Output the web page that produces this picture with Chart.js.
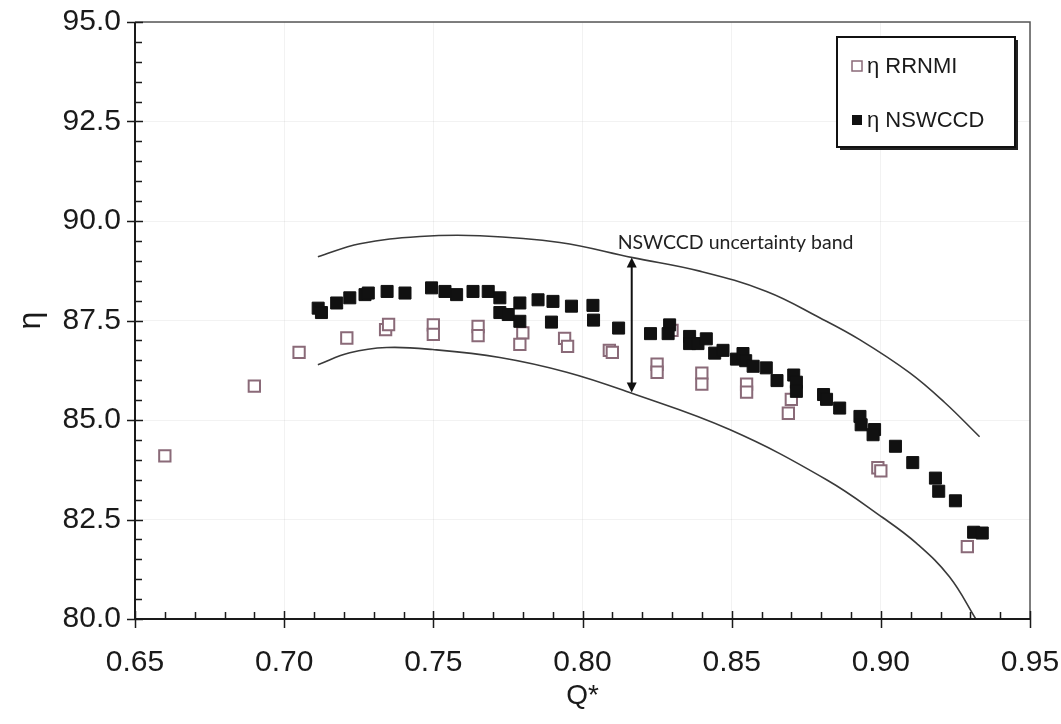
<!DOCTYPE html>
<html>
<head>
<meta charset="utf-8">
<script src="https://cdn.jsdelivr.net/npm/chart.js@4.4.1/dist/chart.umd.min.js"></script>
<style>
  html, body { margin: 0; padding: 0; background: #fff; }
  #wrap { width: 1061px; height: 724px; }
</style>
</head>
<body>
<div id="wrap"><canvas id="etaChart"></canvas></div>
<script>
// RRNMI efficiency measurements
const rrnmiQ = [0.660, 0.690, 0.705, 0.721, 0.734, 0.735, 0.750, 0.750, 0.765, 0.765,
                0.780, 0.779, 0.794, 0.795, 0.809, 0.810, 0.825, 0.825, 0.830, 0.840,
                0.840, 0.855, 0.855, 0.870, 0.869, 0.899, 0.900, 0.929];
const rrnmiEta = [84.10, 85.85, 86.70, 87.06, 87.27, 87.40, 87.39, 87.15, 87.35, 87.12,
                  87.19, 86.90, 87.05, 86.85, 86.75, 86.70, 86.40, 86.20, 87.25, 86.18,
                  85.90, 85.90, 85.70, 85.52, 85.17, 83.80, 83.72, 81.82];

// NSWCCD efficiency measurements
const nswccdQ = [0.7114, 0.7125, 0.7176, 0.7220, 0.7271, 0.7282, 0.7345, 0.7405, 0.7494, 0.7539,
                 0.7578, 0.7633, 0.7684, 0.7723, 0.7723, 0.7751, 0.7790, 0.7790, 0.7851, 0.7901,
                 0.7896, 0.7963, 0.8035, 0.8037, 0.8121, 0.8228, 0.8292, 0.8287, 0.8359, 0.8359,
                 0.8387, 0.8415, 0.8443, 0.8471, 0.8516, 0.8538, 0.8547, 0.8572, 0.8616, 0.8652,
                 0.8708, 0.8717, 0.8717, 0.8808, 0.8818, 0.8862, 0.8930, 0.8934, 0.8979, 0.8974,
                 0.9049, 0.9107, 0.9183, 0.9194, 0.9250, 0.9311, 0.9340];
const nswccdEta = [87.81, 87.70, 87.94, 88.07, 88.15, 88.19, 88.23, 88.19, 88.32, 88.23,
                   88.15, 88.23, 88.23, 88.07, 87.70, 87.65, 87.94, 87.48, 88.02, 87.98,
                   87.46, 87.86, 87.88, 87.51, 87.31, 87.17, 87.39, 87.17, 87.10, 86.92,
                   86.92, 87.04, 86.68, 86.75, 86.53, 86.67, 86.49, 86.35, 86.31, 85.99,
                   86.13, 85.95, 85.72, 85.64, 85.52, 85.30, 85.09, 84.88, 84.76, 84.63,
                   84.34, 83.93, 83.54, 83.21, 82.97, 82.18, 82.16];

// NSWCCD uncertainty band limits
const bandUpperQ = [0.7113, 0.7254, 0.7455, 0.7656, 0.7924, 0.8168, 0.8393, 0.8617, 0.8795, 0.8929, 0.9096, 0.9214, 0.9331];
const bandUpperEta = [89.10, 89.43, 89.61, 89.63, 89.46, 89.08, 88.74, 88.23, 87.57, 87.02, 86.19, 85.44, 84.58];
const bandLowerQ = [0.7113, 0.7220, 0.7344, 0.7498, 0.7723, 0.7947, 0.8158, 0.8493, 0.8818, 0.9006, 0.9120, 0.9230, 0.9320];
const bandLowerEta = [86.39, 86.69, 86.82, 86.77, 86.57, 86.20, 85.69, 84.76, 83.50, 82.55, 81.90, 81.06, 79.98];

// band width marker and its caption
const bandArrowQ = 0.8165;
const bandArrowEta = [85.69, 89.08];
const bandCaption = 'NSWCCD uncertainty band';
const bandCaptionQ = 0.8513;
const bandCaptionEta = 89.45;

// axes
const xTickValues = [0.65, 0.70, 0.75, 0.80, 0.85, 0.90, 0.95];
const yTickValues = [80.0, 82.5, 85.0, 87.5, 90.0, 92.5, 95.0];
const xMinorStep = 0.01;
const yMinorStep = 0.5;

const legendLabels = ['η RRNMI', 'η NSWCCD'];

const toPoints = (xs, ys) => xs.map((x, i) => ({ x: x, y: ys[i] }));

const tickFont = { family: "'Liberation Sans', Arial, sans-serif", size: 30 };

// frame, inside/crossing tick marks, arrow, caption and legend box
const decorations = {
    id: 'decorations',
    afterDraw(chart) {
        const ctx = chart.ctx;
        const area = chart.chartArea;
        const xs = chart.scales.x;
        const ys = chart.scales.y;

        ctx.save();
        // frame
        ctx.strokeStyle = '#555';
        ctx.lineWidth = 1.5;
        ctx.beginPath();
        ctx.moveTo(area.left, area.top);
        ctx.lineTo(area.right, area.top);
        ctx.lineTo(area.right, area.bottom);
        ctx.stroke();
        ctx.strokeStyle = '#1a1a1a';
        ctx.lineWidth = 2;
        ctx.beginPath();
        ctx.moveTo(area.left, area.top);
        ctx.lineTo(area.left, area.bottom);
        ctx.lineTo(area.right, area.bottom);
        ctx.stroke();

        // x ticks
        ctx.lineWidth = 1.5;
        const xMin = xTickValues[0];
        const xCount = Math.round((xTickValues[xTickValues.length - 1] - xMin) / xMinorStep);
        ctx.beginPath();
        for (let i = 0; i <= xCount; i++) {
            const px = Math.round(xs.getPixelForValue(xMin + i * xMinorStep)) + 0.5;
            const major = i % 5 === 0;
            ctx.moveTo(px, area.bottom - (major ? 8 : 7));
            ctx.lineTo(px, area.bottom + (major ? 9 : 0));
        }
        // y ticks
        const yMin = yTickValues[0];
        const yCount = Math.round((yTickValues[yTickValues.length - 1] - yMin) / yMinorStep);
        for (let i = 0; i <= yCount; i++) {
            const py = Math.round(ys.getPixelForValue(yMin + i * yMinorStep)) + 0.5;
            const major = i % 5 === 0;
            ctx.moveTo(area.left - (major ? 8 : 0), py);
            ctx.lineTo(area.left + (major ? 8 : 7), py);
        }
        ctx.stroke();

        // double headed arrow across the band
        const ax = xs.getPixelForValue(bandArrowQ);
        const aBot = ys.getPixelForValue(bandArrowEta[0]);
        const aTop = ys.getPixelForValue(bandArrowEta[1]);
        ctx.strokeStyle = '#111';
        ctx.fillStyle = '#111';
        ctx.lineWidth = 2;
        ctx.beginPath();
        ctx.moveTo(ax, aTop + 6);
        ctx.lineTo(ax, aBot - 6);
        ctx.stroke();
        ctx.beginPath();
        ctx.moveTo(ax, aTop);
        ctx.lineTo(ax - 5, aTop + 10);
        ctx.lineTo(ax + 5, aTop + 10);
        ctx.closePath();
        ctx.moveTo(ax, aBot);
        ctx.lineTo(ax - 5, aBot - 10);
        ctx.lineTo(ax + 5, aBot - 10);
        ctx.closePath();
        ctx.fill();

        ctx.font = "19.5px Lato, 'Open Sans', sans-serif";
        ctx.fillStyle = '#222';
        ctx.textAlign = 'center';
        ctx.textBaseline = 'middle';
        ctx.fillText(bandCaption, xs.getPixelForValue(bandCaptionQ), ys.getPixelForValue(bandCaptionEta));

        // legend box
        const lx = 837, ly = 37, lw = 178, lh = 110;
        ctx.fillStyle = '#222';
        ctx.fillRect(lx + 3, ly + 3, lw, lh);
        ctx.fillStyle = '#fff';
        ctx.fillRect(lx, ly, lw, lh);
        ctx.strokeStyle = '#111';
        ctx.lineWidth = 2;
        ctx.strokeRect(lx, ly, lw, lh);

        const sets = chart.data.datasets.slice(0, 2);
        const rowY = [ly + 29, ly + 83];
        ctx.font = "22px 'Liberation Sans', Arial, sans-serif";
        ctx.textAlign = 'left';
        sets.forEach((ds, i) => {
            const cy = rowY[i];
            if (ds.backgroundColor === '#fff') {
                ctx.fillStyle = '#fff';
                ctx.fillRect(lx + 15, cy - 5, 10, 10);
                ctx.strokeStyle = ds.borderColor;
                ctx.lineWidth = 1.5;
                ctx.strokeRect(lx + 15, cy - 5, 10, 10);
            } else {
                ctx.fillStyle = ds.backgroundColor;
                ctx.fillRect(lx + 15, cy - 5, 10, 10);
            }
            ctx.fillStyle = '#1a1a1a';
            ctx.fillText(legendLabels[i], lx + 30, cy + 1);
        });
        ctx.restore();
    }
};

const ctx = document.getElementById('etaChart').getContext('2d');
new Chart(ctx, {
    type: 'scatter',
    data: {
        datasets: [{
            label: legendLabels[0],
            data: toPoints(rrnmiQ, rrnmiEta),
            pointStyle: 'rect',
            pointRadius: 8,
            backgroundColor: '#fff',
            borderColor: '#8a6a78',
            borderWidth: 2,
            order: 2
        }, {
            label: legendLabels[1],
            data: toPoints(nswccdQ, nswccdEta),
            pointStyle: 'rect',
            pointRadius: 8.5,
            backgroundColor: '#111',
            borderColor: '#111',
            borderWidth: 1,
            order: 1
        }, {
            label: 'upper',
            data: toPoints(bandUpperQ, bandUpperEta),
            showLine: true,
            pointRadius: 0,
            borderColor: '#3a3a3a',
            borderWidth: 1.6,
            tension: 0.4,
            order: 3
        }, {
            label: 'lower',
            data: toPoints(bandLowerQ, bandLowerEta),
            showLine: true,
            pointRadius: 0,
            borderColor: '#3a3a3a',
            borderWidth: 1.6,
            tension: 0.4,
            order: 3
        }]
    },
    options: {
        responsive: true,
        maintainAspectRatio: false,
        animation: false,
        layout: { padding: { top: 22, right: 31, left: 0, bottom: 0 } },
        plugins: {
            legend: { display: false },
            tooltip: { enabled: false }
        },
        scales: {
            x: {
                type: 'linear',
                min: 0.65,
                max: 0.95,
                afterFit: scale => {
                    scale.height = 105;
                    scale.paddingLeft = 0;
                    scale.paddingRight = 0;
                },
                afterBuildTicks: scale => { scale.ticks = xTickValues.map(v => ({ value: v })); },
                ticks: {
                    font: tickFont,
                    color: '#1a1a1a',
                    padding: 26,
                    maxRotation: 0,
                    callback: v => v.toFixed(2)
                },
                grid: { color: 'rgba(0,0,0,0.05)', drawTicks: false },
                border: { display: false },
                title: {
                    display: true,
                    text: 'Q*',
                    font: { family: "'Liberation Sans', Arial, sans-serif", size: 28 },
                    color: '#1a1a1a',
                    padding: { bottom: 11 }
                }
            },
            y: {
                type: 'linear',
                min: 80,
                max: 95,
                afterFit: scale => {
                    scale.width = 135;
                    scale.paddingTop = 0;
                    scale.paddingBottom = 0;
                },
                afterBuildTicks: scale => { scale.ticks = yTickValues.map(v => ({ value: v })); },
                ticks: {
                    font: tickFont,
                    color: '#1a1a1a',
                    padding: 14,
                    callback: v => v.toFixed(1)
                },
                grid: { color: 'rgba(0,0,0,0.05)', drawTicks: false },
                border: { display: false },
                title: {
                    display: true,
                    text: 'η',
                    font: { family: "'Liberation Sans', Arial, sans-serif", size: 32 },
                    color: '#1a1a1a',
                    padding: { top: 12 }
                }
            }
        }
    },
    plugins: [decorations]
});
</script>
</body>
</html>
